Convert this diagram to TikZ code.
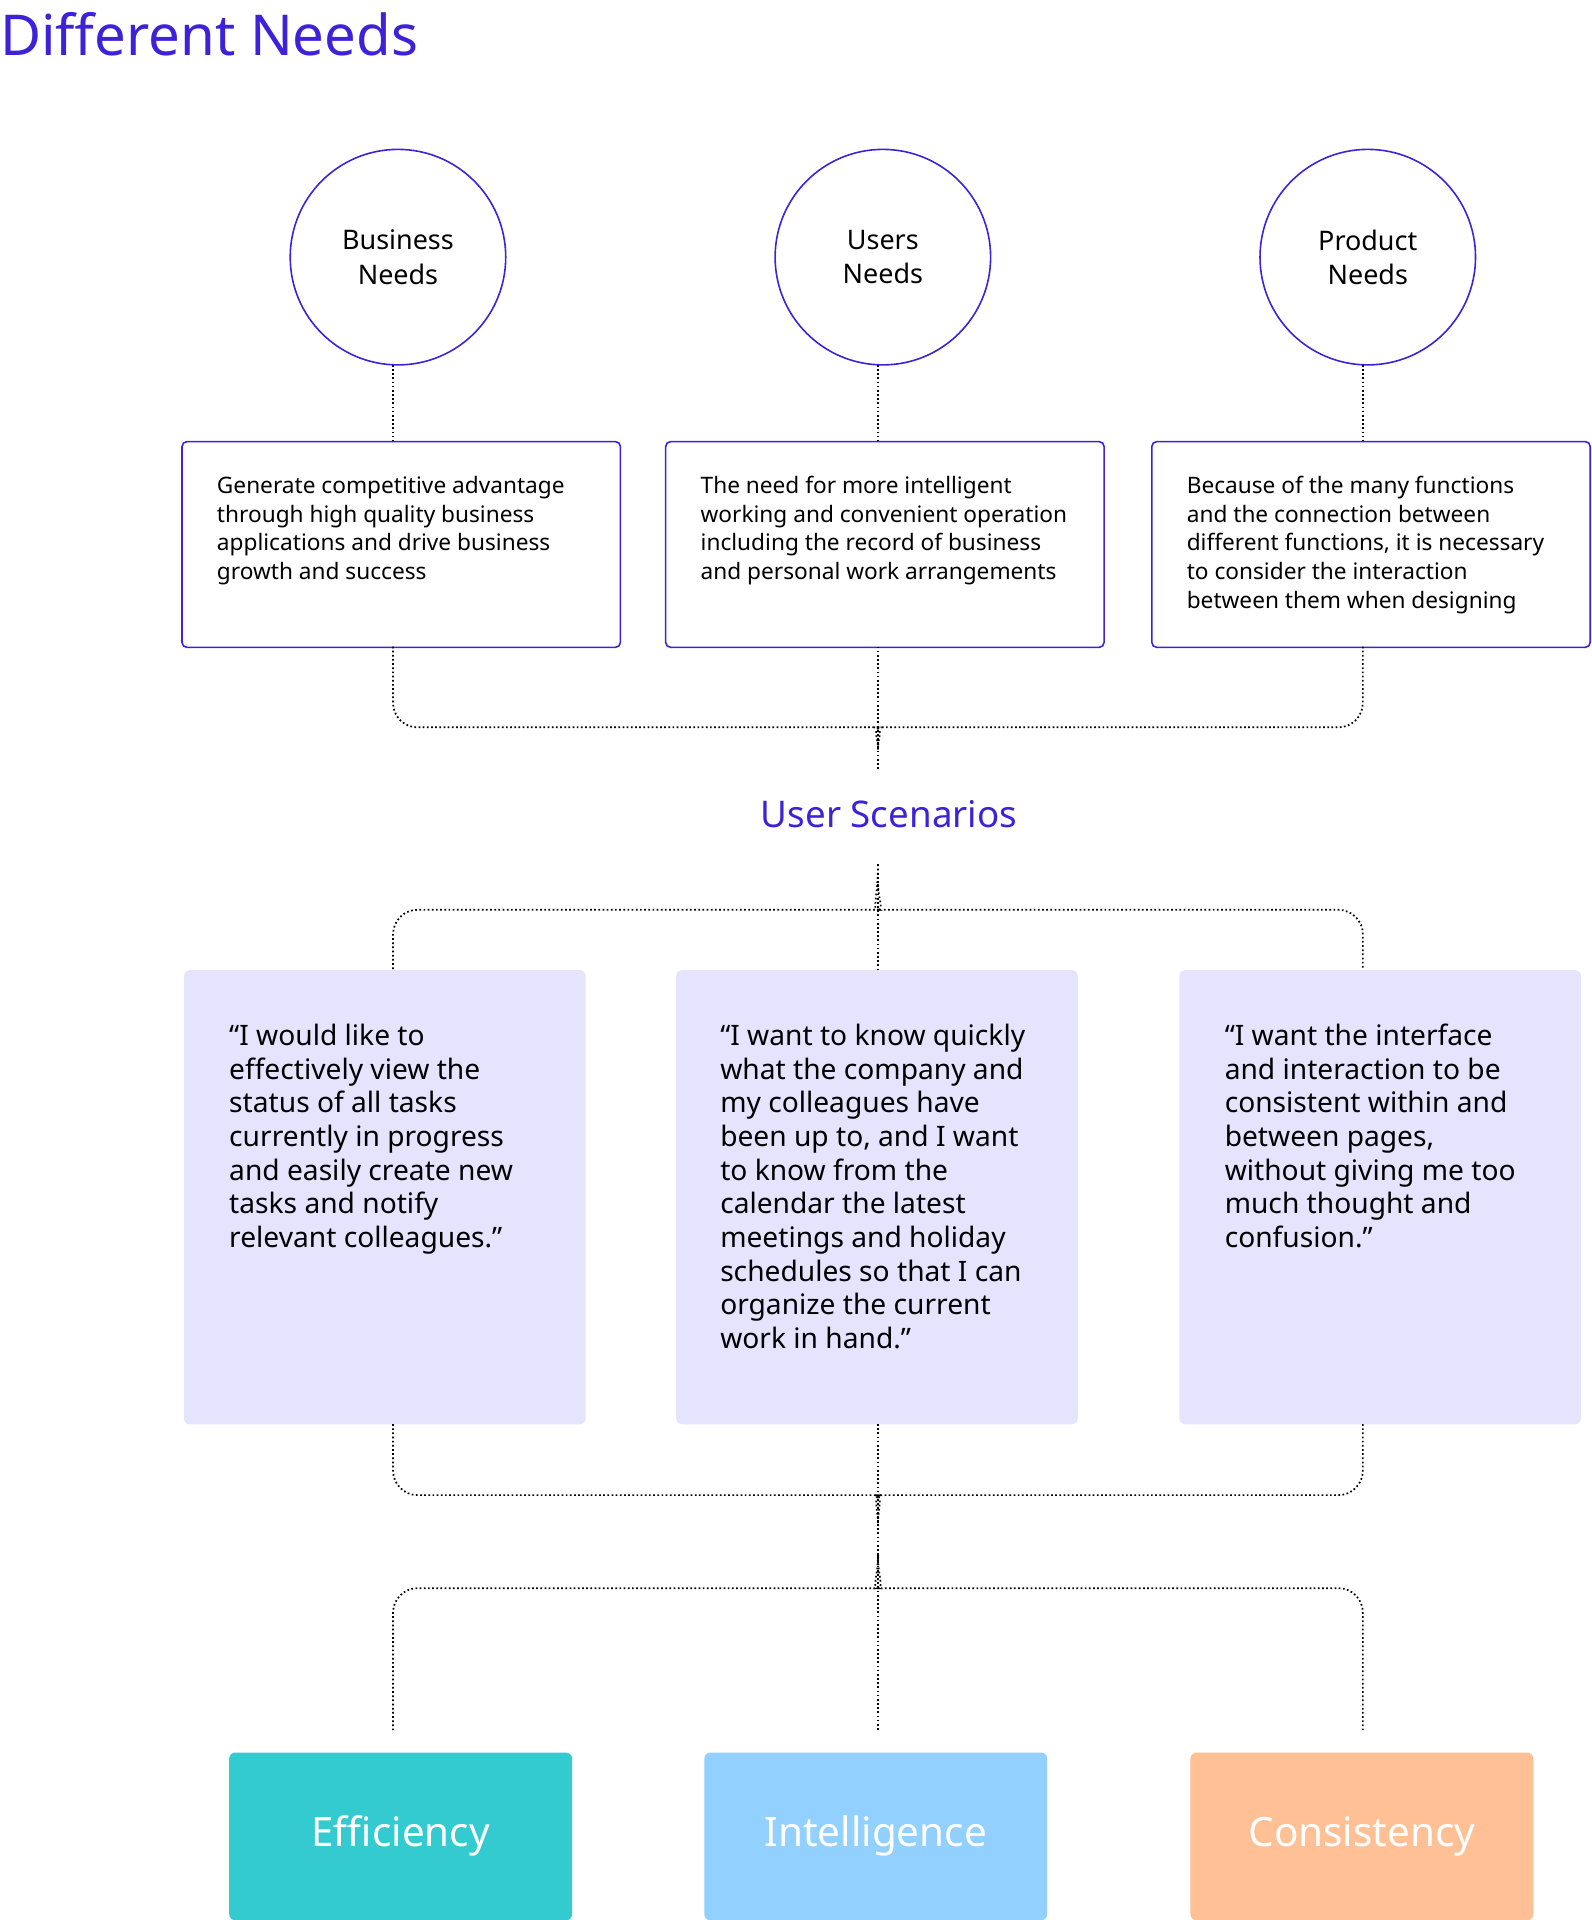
\documentclass[tikz,border=0pt]{standalone}
\usepackage{fontspec}
\setmainfont{Noto Sans}
\definecolor{ink}{HTML}{3D22D9}
\definecolor{lav}{HTML}{E5E3FD}
\definecolor{teal}{HTML}{33CBD0}
\definecolor{sky}{HTML}{91D0FF}
\definecolor{peach}{HTML}{FFC095}
\begin{document}
\begin{tikzpicture}[x=1pt,y=-1pt,
  need/.style={circle,draw=ink,line width=1.3pt,minimum size=176pt,font=\fontsize{22}{28}\selectfont\bfseries,align=center,inner sep=0},
  desc/.style={draw=ink,line width=1.3pt,rounded corners=4pt,minimum width=358pt,minimum height=168pt,anchor=north west},
  desctxt/.style={anchor=north west,align=left,font=\fontsize{18.5}{23.3}\selectfont,inner sep=0},
  quote/.style={fill=lav,rounded corners=5pt,minimum width=328pt,minimum height=371pt,anchor=north west},
  quotetxt/.style={anchor=north west,align=left,font=\fontsize{23}{27.5}\selectfont,inner sep=0},
  res/.style={rounded corners=5pt,minimum width=280pt,minimum height=137pt,anchor=north west,text=white,font=\fontsize{33}{40}\selectfont\bfseries},
  dot/.style={dotted,line width=1.4pt,rounded corners=20pt}]
\useasboundingbox (0,0) rectangle (1300,1568);
\node[anchor=west,text=ink,font=\fontsize{46}{50}\selectfont\bfseries,inner sep=0] (title) at (0,28) {Different Needs};
\node[need] (c1) at (325,210) {Business\\Needs};
\node[need] (c2) at (721,210) {Users\\Needs};
\node[need] (c3) at (1117,210) {Product\\Needs};
\node[desc] (b1) at (148,360) {};
\node[desc] (b2) at (543,360) {};
\node[desc] (b3) at (940,360) {};
\node[desctxt] (t1) at (177,389) {Generate competitive advantage\\through high quality business\\applications and drive business\\growth and success};
\node[desctxt] (t2) at (572,389) {The need for more intelligent\\working and convenient operation\\including the record of business\\and personal work arrangements};
\node[desctxt] (t3) at (969,389) {Because of the many functions\\and the connection between\\different functions, it is necessary\\to consider the interaction\\between them when designing};
\draw[dot] (321,298) -- (321,360);
\draw[dot] (717,298) -- (717,360);
\draw[dot] (1113,298) -- (1113,360);
\node[text=ink,font=\fontsize{30}{36}\selectfont\bfseries] (us) at (726,665) {User Scenarios};
\coordinate (j1) at (717,628);
\draw[dot] (321,528) -- (321,594) -- (700,594) .. controls (712,594) and (717,602) .. (717,612);
\draw[dot] (1113,528) -- (1113,594) -- (734,594) .. controls (722,594) and (717,602) .. (717,612);
\draw[dot] (717,528) -- (j1);
\coordinate (j2) at (717,706);
\draw[dot] (j2) .. controls (717,733) and (712,743) .. (697,743) -- (321,743) -- (321,792);
\draw[dot] (717,722) .. controls (717,733) and (722,743) .. (737,743) -- (1113,743) -- (1113,792);
\draw[dot] (j2) -- (717,792);
\node[quote] (q1) at (150,792) {};
\node[quote] (q2) at (552,792) {};
\node[quote] (q3) at (963,792) {};
\node[quotetxt] (qt1) at (187,836) {“I would like to\\effectively view the\\status of all tasks\\currently in progress\\and easily create new\\tasks and notify\\relevant colleagues.”};
\node[quotetxt] (qt2) at (588,836) {“I want to know quickly\\what the company and\\my colleagues have\\been up to, and I want\\to know from the\\calendar the latest\\meetings and holiday\\schedules so that I can\\organize the current\\work in hand.”};
\node[quotetxt] (qt3) at (1000,836) {“I want the interface\\and interaction to be\\consistent within and\\between pages,\\without giving me too\\much thought and\\confusion.”};
\draw[dot] (321,1163) -- (321,1221) -- (700,1221) .. controls (712,1221) and (717,1230) .. (717,1245);
\draw[dot] (1113,1163) -- (1113,1221) -- (734,1221) .. controls (722,1221) and (717,1230) .. (717,1245);
\draw[dot] (717,1270) .. controls (717,1287) and (712,1297) .. (697,1297) -- (321,1297) -- (321,1413);
\draw[dot] (717,1270) .. controls (717,1287) and (722,1297) .. (737,1297) -- (1113,1297) -- (1113,1413);
\draw[dot] (717,1163) -- (717,1413);
\node[res,fill=teal] (r1) at (187,1431) {Efficiency};
\node[res,fill=sky] (r2) at (575,1431) {Intelligence};
\node[res,fill=peach] (r3) at (972,1431) {Consistency};
\end{tikzpicture}
\end{document}
